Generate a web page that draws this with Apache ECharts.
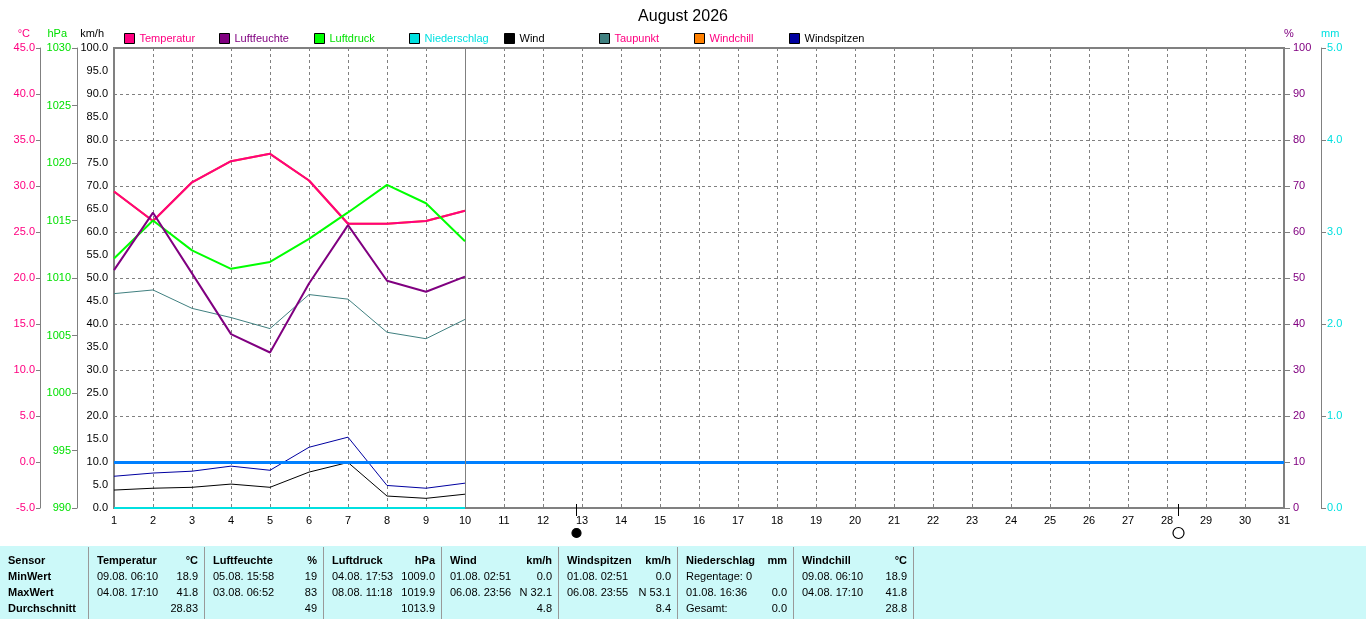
<!DOCTYPE html>
<html>
<head>
<meta charset="utf-8">
<title>August 2026</title>
<script src="https://cdn.jsdelivr.net/npm/echarts@6.0.0/dist/echarts.min.js"></script>
<style>
  html, body { margin: 0; padding: 0; background: #fff; }
  #chart { width: 1366px; height: 619px; }
</style>
</head>
<body>
<div id="chart"></div>
<script>
// Tage mit Messwerten
var days = [1, 2, 3, 4, 5, 6, 7, 8, 9, 10];

// Tageswerte
var temperatur  = [29.4, 26.2, 30.4, 32.7, 33.5, 30.6, 25.9, 25.9, 26.2, 27.3];
var windchill   = [29.4, 26.2, 30.4, 32.7, 33.5, 30.6, 25.9, 25.9, 26.2, 27.3];
var taupunkt    = [18.3, 18.7, 16.7, 15.7, 14.5, 18.2, 17.7, 14.1, 13.4, 15.5];
var luftfeuchte = [51.7, 64.2, 51.0, 37.8, 33.8, 48.8, 61.5, 49.4, 47.0, 50.3];
var luftdruck   = [1011.7, 1015.0, 1012.4, 1010.8, 1011.4, 1013.4, 1015.7, 1018.1, 1016.5, 1013.2];
var wind        = [3.9, 4.3, 4.5, 5.2, 4.5, 7.8, 9.9, 2.6, 2.1, 3.0];
var windspitzen = [6.9, 7.6, 8.0, 9.1, 8.2, 13.2, 15.4, 4.9, 4.3, 5.4];
var niederschlag = [0, 0, 0, 0, 0, 0, 0, 0, 0, 0];

// Mondphasen (Tag im Monat, gefuellt = Neumond)
var moonDays   = [12.85, 28.28];
var moonFilled = [true, false];

// Legende
var legendNames  = ['Temperatur', 'Luftfeuchte', 'Luftdruck', 'Niederschlag', 'Wind', 'Taupunkt', 'Windchill', 'Windspitzen'];
var legendColors = ['#ff0080', '#800080', '#00e000', '#00e0e0', '#000000', '#ff0080', '#ff0080', '#000000'];

// Tabelle unten
var tableHeads = [['Temperatur', '°C'], ['Luftfeuchte', '%'], ['Luftdruck', 'hPa'], ['Wind', 'km/h'],
                  ['Windspitzen', 'km/h'], ['Niederschlag', 'mm'], ['Windchill', '°C']];
var rowLabels = ['Sensor', 'MinWert', 'MaxWert', 'Durchschnitt'];
var minRow = [['09.08. 06:10', '18.9'], ['05.08. 15:58', '19'], ['04.08. 17:53', '1009.0'], ['01.08. 02:51', '0.0'],
              ['01.08. 02:51', '0.0'], ['Regentage: 0', ''], ['09.08. 06:10', '18.9']];
var maxRow = [['04.08. 17:10', '41.8'], ['03.08. 06:52', '83'], ['08.08. 11:18', '1019.9'], ['06.08. 23:56', 'N 32.1'],
              ['06.08. 23:55', 'N 53.1'], ['01.08. 16:36', '0.0'], ['04.08. 17:10', '41.8']];
var avgRow = [['', '28.83'], ['', '49'], ['', '1013.9'], ['', '4.8'], ['', '8.4'], ['Gesamt:', '0.0'], ['', '28.8']];


var FONT = "'Liberation Sans', Arial, sans-serif";
var FS = 11;
var GRID = '#808080';

function pairs(arr) {
    return arr.map(function (v, i) { return [days[i], v]; });
}

function fix1(v) { return v.toFixed(1); }
function plain(v) { return String(v); }

function lineSeries(name, data, axis, color, width, z) {
    return {
        name: name,
        type: 'line',
        yAxisIndex: axis,
        data: pairs(data),
        showSymbol: false,
        symbol: 'none',
        silent: true,
        z: z,
        itemStyle: { color: color },
        lineStyle: { color: color, width: width }
    };
}

var chart = echarts.init(document.getElementById('chart'));

var legends = [];
for (var i = 0; i < legendNames.length; i++) {
    legends.push({
        left: 124 + i * 95,
        top: 33,
        padding: 0,
        icon: 'rect',
        itemWidth: 10,
        itemHeight: 10,
        selectedMode: false,
        itemStyle: { borderColor: '#000', borderWidth: 1 },
        textStyle: { fontSize: FS, fontFamily: FONT },
        data: [{ name: legendNames[i], textStyle: { color: legendColors[i] } }]
    });
}

var windSeries = lineSeries('Wind', wind, 0, '#000000', 1, 4);
windSeries.markLine = {
    silent: true,
    symbol: ['none', 'none'],
    label: { show: false },
    animation: false,
    data: [
        { yAxis: 10, lineStyle: { color: '#0080ff', width: 3, type: 'solid' } },
        { xAxis: 10, lineStyle: { color: GRID, width: 1, type: 'solid' } }
    ]
};

var option = {
    backgroundColor: '#fff',
    animation: false,
    textStyle: { fontFamily: FONT },
    title: {
        text: 'August 2026',
        left: 'center',
        top: 4,
        textStyle: { fontSize: 16, fontWeight: 'normal', color: '#000', fontFamily: FONT }
    },
    legend: legends,
    grid: {
        left: 114, right: 82, top: 48, bottom: 111,
        show: true, borderColor: GRID, borderWidth: 2, backgroundColor: 'transparent'
    },
    xAxis: {
        type: 'value',
        min: 1, max: 31, interval: 1,
        axisLine: { show: false },
        axisTick: { show: false },
        axisLabel: { color: '#000', fontSize: FS, margin: 7 },
        splitLine: { show: true, lineStyle: { color: GRID, width: 1, type: [3, 3] } }
    },
    yAxis: [
        {   // km/h
            type: 'value', position: 'left', offset: 0,
            min: 0, max: 100, interval: 5,
            name: 'km/h', nameLocation: 'end', nameGap: 9,
            nameTextStyle: { color: '#000', fontSize: FS, align: 'right', padding: [0, 10, 0, 0] },
            axisLine: { show: false },
            axisTick: { show: false },
            axisLabel: { color: '#000', fontSize: FS, margin: 6, formatter: fix1 },
            splitLine: { show: false }
        },
        {   // °C
            type: 'value', position: 'left', offset: 74,
            min: -5, max: 45, interval: 5,
            name: '°C', nameLocation: 'end', nameGap: 9,
            nameTextStyle: { color: '#ff0080', fontSize: FS, align: 'right', padding: [0, 10, 0, 0] },
            axisLine: { show: true, lineStyle: { color: GRID, width: 1 } },
            axisTick: { show: true, length: 4, lineStyle: { color: GRID } },
            axisLabel: { color: '#ff0080', fontSize: FS, margin: 5, formatter: fix1 },
            splitLine: { show: false }
        },
        {   // hPa
            type: 'value', position: 'left', offset: 37,
            min: 990, max: 1030, interval: 5,
            name: 'hPa', nameLocation: 'end', nameGap: 9,
            nameTextStyle: { color: '#00e000', fontSize: FS, align: 'right', padding: [0, 10, 0, 0] },
            axisLine: { show: true, lineStyle: { color: GRID, width: 1 } },
            axisTick: { show: true, length: 5, lineStyle: { color: GRID } },
            axisLabel: { color: '#00e000', fontSize: FS, margin: 6, formatter: plain },
            splitLine: { show: false }
        },
        {   // %
            type: 'value', position: 'right', offset: 0,
            min: 0, max: 100, interval: 10,
            name: '%', nameLocation: 'end', nameGap: 9,
            nameTextStyle: { color: '#800080', fontSize: FS, align: 'left', padding: [0, 0, 0, 0] },
            axisLine: { show: false },
            axisTick: { show: true, length: 6, lineStyle: { color: GRID } },
            axisLabel: { color: '#800080', fontSize: FS, margin: 9 },
            splitLine: { show: true, lineStyle: { color: GRID, width: 1, type: [3, 3] } }
        },
        {   // mm
            type: 'value', position: 'right', offset: 37,
            min: 0, max: 5, interval: 1,
            name: 'mm', nameLocation: 'end', nameGap: 9,
            nameTextStyle: { color: '#00e0e0', fontSize: FS, align: 'left', padding: [0, 0, 0, 0] },
            axisLine: { show: true, lineStyle: { color: GRID, width: 1 } },
            axisTick: { show: true, length: 5, lineStyle: { color: GRID } },
            axisLabel: { color: '#00e0e0', fontSize: FS, margin: 6, formatter: fix1 },
            splitLine: { show: false }
        }
    ],
    series: [
        windSeries,
        lineSeries('Windspitzen', windspitzen, 0, '#0000a0', 1, 4),
        lineSeries('Niederschlag', niederschlag, 4, '#00e0e0', 2, 5),
        lineSeries('Taupunkt', taupunkt, 1, '#408080', 1, 5),
        lineSeries('Windchill', windchill, 1, '#ff8000', 2, 5),
        lineSeries('Temperatur', temperatur, 1, '#ff0080', 2, 6),
        lineSeries('Luftdruck', luftdruck, 2, '#00ff00', 2, 6),
        lineSeries('Luftfeuchte', luftfeuchte, 3, '#800080', 2, 7)
    ]
};

chart.setOption(option);


// ---------------------------------- Tabelle und Mondphasen ----------------------------------

function txt(x, y, s, color, bold, align) {
    return {
        type: 'text', x: x, y: y, silent: true, z: 10,
        style: {
            text: s, fill: color || '#000',
            font: (bold ? 'bold ' : '') + FS + 'px ' + FONT,
            align: align || 'left', textAlign: align || 'left',
            verticalAlign: 'middle', textVerticalAlign: 'middle'
        }
    };
}

var elements = [];
var tableTop = 546;
var rowY = [561, 577, 593, 609];
var sepX = [88, 204, 323, 441, 558, 677, 793, 913];

elements.push({ type: 'rect', silent: true, z: 1, shape: { x: 0, y: tableTop, width: 1366, height: 619 - tableTop }, style: { fill: '#ccf9f9' } });
for (var s = 0; s < sepX.length; s++) {
    elements.push({ type: 'line', silent: true, z: 2,
        shape: { x1: sepX[s] + 0.5, y1: tableTop + 1, x2: sepX[s] + 0.5, y2: 619 },
        style: { stroke: '#999', lineWidth: 1 } });
}
for (var r = 0; r < rowLabels.length; r++) {
    elements.push(txt(8, rowY[r], rowLabels[r], '#000', true, 'left'));
}
var rows = [minRow, maxRow, avgRow];
for (var c = 0; c < tableHeads.length; c++) {
    var xl = sepX[c] + 9, xr = sepX[c + 1] - 6;
    elements.push(txt(xl, rowY[0], tableHeads[c][0], '#000', true, 'left'));
    elements.push(txt(xr, rowY[0], tableHeads[c][1], '#000', true, 'right'));
    for (var k = 0; k < rows.length; k++) {
        if (rows[k][c][0]) elements.push(txt(xl, rowY[k + 1], rows[k][c][0], '#000', false, 'left'));
        if (rows[k][c][1]) elements.push(txt(xr, rowY[k + 1], rows[k][c][1], '#000', false, 'right'));
    }
}

var y0 = chart.convertToPixel({ yAxisIndex: 0 }, 0);
for (var m = 0; m < moonDays.length; m++) {
    var mx = Math.round(chart.convertToPixel({ xAxisIndex: 0 }, moonDays[m])) + 0.5;
    elements.push({ type: 'line', silent: true, z: 10,
        shape: { x1: mx, y1: y0 - 4, x2: mx, y2: y0 + 8 },
        style: { stroke: '#000', lineWidth: 1 } });
    elements.push({ type: 'circle', silent: true, z: 10,
        shape: { cx: mx, cy: y0 + 25, r: moonFilled[m] ? 4.5 : 5.5 },
        style: { fill: moonFilled[m] ? '#000' : '#fff', stroke: '#000', lineWidth: 1.2 } });
}

chart.setOption({ graphic: { elements: elements } });
</script>
</body>
</html>
